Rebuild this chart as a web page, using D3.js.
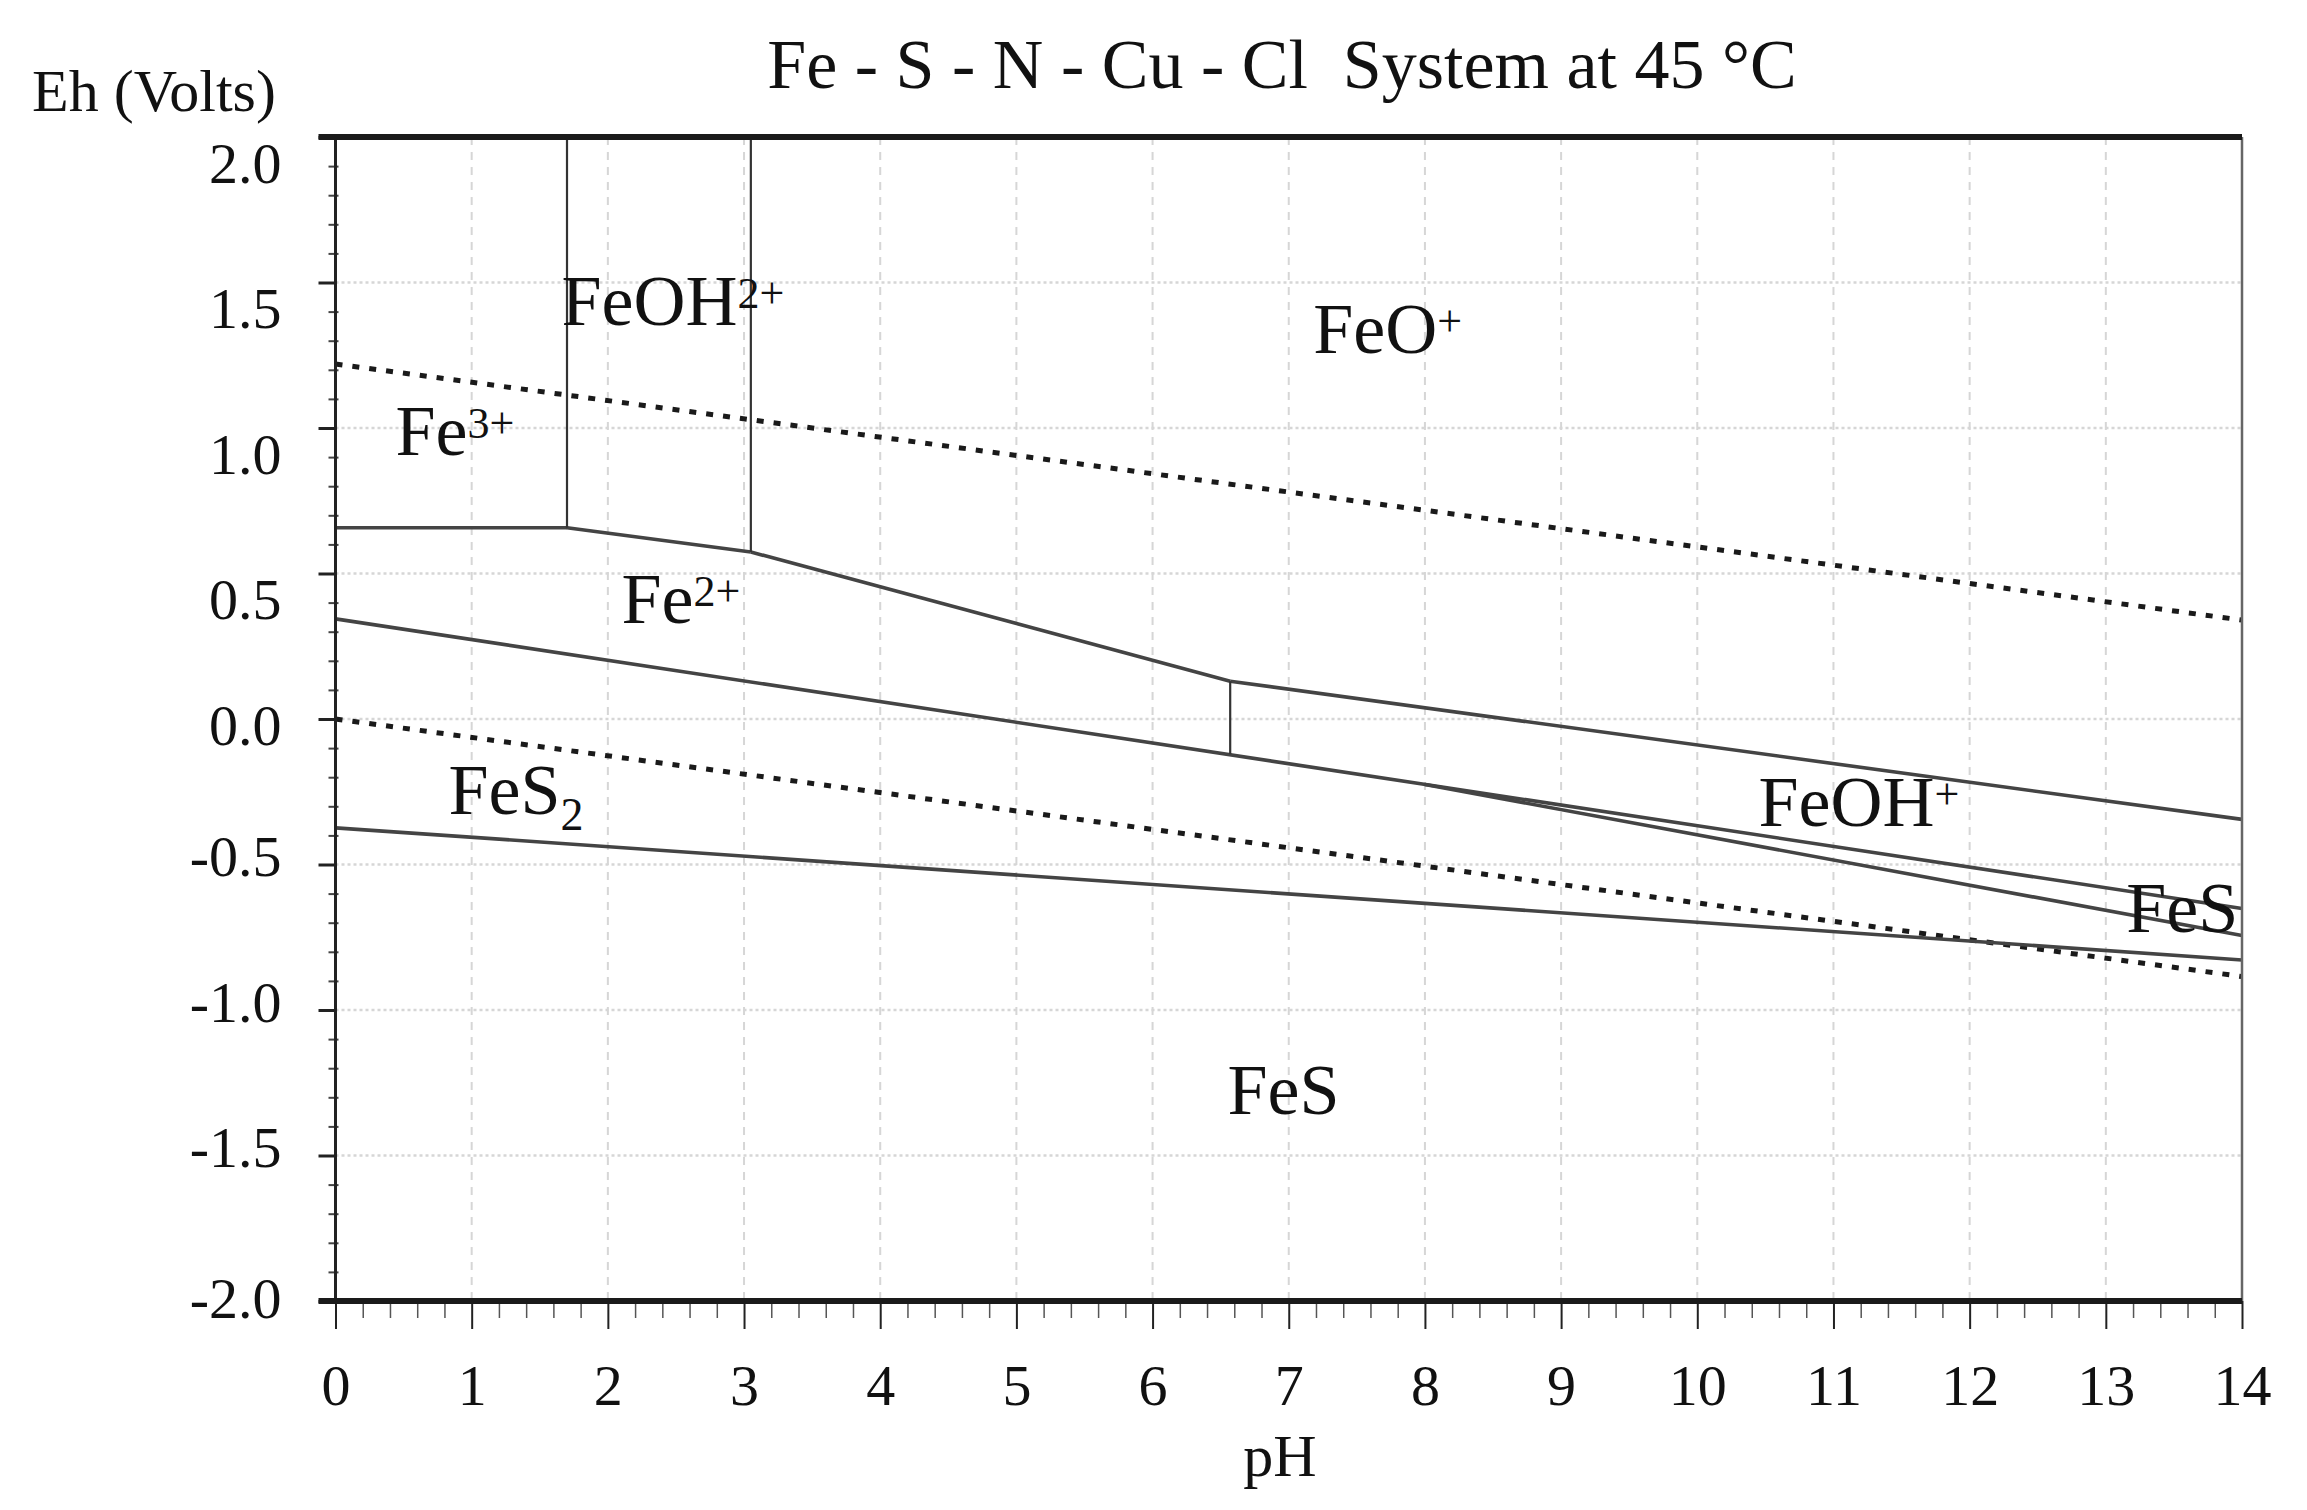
<!DOCTYPE html>
<html>
<head>
<meta charset="utf-8">
<script src="https://d3js.org/d3.v7.min.js"></script>
<style>
  body { margin: 0; background: #fff; }
  svg { display: block; font-family: "Liberation Serif", "Times New Roman", serif; }
</style>
</head>
<body>
<div id="chart"></div>
<script>
// ---- data (pH, Eh in volts) ----
const pHTicks = d3.range(0, 15);
const ehTicks = [2.0, 1.5, 1.0, 0.5, 0.0, -0.5, -1.0, -1.5, -2.0];

// water stability limits (dotted)
const waterUpper = [[0, 1.22], [14, 0.34]];
const waterLower = [[0, 0.0], [14, -0.885]];

// sloping / horizontal boundaries
const fe3Fe2 = [[0, 0.657], [1.70, 0.657]];
const feoh2Fe2 = [[1.70, 0.657], [3.05, 0.574]];
const feoFe2 = [[3.05, 0.574], [6.57, 0.13]];
const feoFeoh = [[6.57, 0.13], [14, -0.345]];
const fe2Fes2 = [[0, 0.344], [14, -0.651]];
const feohFes = [[8.0, -0.225], [14, -0.744]];
const fes2Fes = [[0, -0.374], [14, -0.828]];

// vertical boundaries
const fe3Feoh2 = [[1.70, 0.657], [1.70, 2.0]];
const feoh2Feo = [[3.05, 0.574], [3.05, 2.0]];
const fe2Feoh = [[6.57, 0.13], [6.57, -0.121]];

// field labels: base text, superscript, subscript, anchor (pH, Eh)
const fieldNames = ["Fe", "FeOH", "FeO", "Fe", "FeS", "FeOH", "FeS", "FeS"];
const fieldSup = ["3+", "2+", "+", "2+", "", "+", "", ""];
const fieldSub = ["", "", "", "", "2", "", "", ""];
const fieldPH = [0.44, 1.66, 7.18, 2.10, 0.83, 10.45, 13.15, 6.55];
const fieldEh = [0.907, 1.354, 1.258, 0.33, -0.326, -0.368, -0.732, -1.357];

// ---- drawing ----
const W = 2307, H = 1510;
const svg = d3.select("#chart").append("svg")
  .attr("width", W).attr("height", H);

const x = d3.scaleLinear().domain([0, 14]).range([335.5, 2242]);
const y = d3.scaleLinear().domain([-2, 2]).range([1301, 137]);

// grid
const grid = svg.append("g");
grid.selectAll("line.v").data(pHTicks.filter(d => d > 0 && d < 14)).enter()
  .append("line")
  .attr("x1", d => x(d)).attr("x2", d => x(d))
  .attr("y1", y(2)).attr("y2", y(-2))
  .attr("stroke", "#d6d6d6").attr("stroke-width", 2)
  .attr("stroke-dasharray", "8,7");
grid.selectAll("line.h").data(ehTicks.filter(d => d > -2 && d < 2)).enter()
  .append("line")
  .attr("x1", x(0)).attr("x2", x(14))
  .attr("y1", d => y(d)).attr("y2", d => y(d))
  .attr("stroke", "#d6d6d6").attr("stroke-width", 2.5)
  .attr("stroke-dasharray", "3,3");

const line = d3.line().x(d => x(d[0])).y(d => y(d[1]));

// water lines
svg.append("g").selectAll("path").data([waterUpper, waterLower]).enter()
  .append("path")
  .attr("d", line)
  .attr("fill", "none")
  .attr("stroke", "#1a1a1a")
  .attr("stroke-width", 5)
  .attr("stroke-dasharray", "7,10");

// boundaries
svg.append("g").selectAll("path")
  .data([fe3Fe2, feoh2Fe2, feoFe2, feoFeoh, fe2Fes2, feohFes, fes2Fes]).enter()
  .append("path")
  .attr("d", line)
  .attr("fill", "none")
  .attr("stroke", "#444")
  .attr("stroke-width", 3.6);

svg.append("g").selectAll("path")
  .data([fe3Feoh2, feoh2Feo, fe2Feoh]).enter()
  .append("path")
  .attr("d", line)
  .attr("fill", "none")
  .attr("stroke", "#333")
  .attr("stroke-width", 2.2);

// x axis (major + minor)
const xMinor = d3.range(0, 14.001, 0.2).filter(v => Math.abs(v - Math.round(v)) > 1e-6);
const xAxisMinor = svg.append("g")
  .attr("transform", `translate(0,${y(-2)})`)
  .call(d3.axisBottom(x).tickValues(xMinor).tickSize(17).tickFormat(""));
xAxisMinor.select(".domain").remove();
xAxisMinor.selectAll("line").attr("stroke", "#555").attr("stroke-width", 1.5);

const xAxis = svg.append("g")
  .attr("transform", `translate(0,${y(-2)})`)
  .call(d3.axisBottom(x).tickValues(pHTicks).tickSize(28).tickFormat(d3.format("d")));
xAxis.select(".domain").remove();
xAxis.selectAll("line").attr("stroke", "#222").attr("stroke-width", 2);
xAxis.selectAll("text")
  .attr("y", 104).attr("dy", null)
  .attr("fill", "#111")
  .style("font-family", "Liberation Serif, serif")
  .style("font-size", "58px");

// y axis (major + minor)
const yMinor = d3.range(-20, 21).map(v => v / 10).filter(v => Math.abs(v * 2 - Math.round(v * 2)) > 1e-6);
const yAxisMinor = svg.append("g")
  .attr("transform", `translate(${x(0) + 3},0)`)
  .call(d3.axisLeft(y).tickValues(yMinor).tickSize(10).tickFormat(""));
yAxisMinor.select(".domain").remove();
yAxisMinor.selectAll("line").attr("stroke", "#444").attr("stroke-width", 2);

const yAxis = svg.append("g")
  .attr("transform", `translate(${x(0)},0)`)
  .call(d3.axisLeft(y).tickValues(ehTicks).tickSize(17).tickFormat(d3.format(".1f")));
yAxis.select(".domain").remove();
yAxis.selectAll("line").attr("stroke", "#222").attr("stroke-width", 3);
yAxis.selectAll("text")
  .text(d => d3.format(".1f")(d).replace("\u2212", "-"))
  .attr("x", -54)
  .attr("dy", null)
  .attr("y", d => d > 0 ? 45 : (d === 0 ? 25 : (d === -2 ? 16 : 11)))
  .attr("fill", "#111")
  .style("font-family", "Liberation Serif, serif")
  .style("font-size", "58px");

// frame
svg.append("line")
  .attr("x1", x(0)).attr("x2", x(0)).attr("y1", y(2)).attr("y2", y(-2))
  .attr("stroke", "#222").attr("stroke-width", 3);
svg.append("line")
  .attr("x1", x(14)).attr("x2", x(14)).attr("y1", y(2)).attr("y2", y(-2))
  .attr("stroke", "#666").attr("stroke-width", 2.5);
svg.append("line")
  .attr("x1", x(0) - 17).attr("x2", x(14)).attr("y1", y(2)).attr("y2", y(2))
  .attr("stroke", "#1a1a1a").attr("stroke-width", 6);
svg.append("line")
  .attr("x1", x(0) - 17).attr("x2", x(14)).attr("y1", y(-2)).attr("y2", y(-2))
  .attr("stroke", "#1a1a1a").attr("stroke-width", 6);

// field labels
const labels = svg.append("g").selectAll("text")
  .data(fieldNames.map((n, i) => ({ n, sup: fieldSup[i], sub: fieldSub[i], ph: fieldPH[i], eh: fieldEh[i] })))
  .enter().append("text")
  .attr("x", d => x(d.ph)).attr("y", d => y(d.eh))
  .attr("fill", "#111")
  .style("font-size", "72px");
labels.append("tspan").text(d => d.n);
labels.filter(d => d.sup).append("tspan")
  .attr("dy", -17).style("font-size", "44px").text(d => d.sup);
labels.filter(d => d.sub).append("tspan")
  .attr("dy", 16).style("font-size", "46px").text(d => d.sub);

// titles
svg.append("text")
  .attr("x", 1282).attr("y", 88)
  .attr("text-anchor", "middle")
  .style("white-space", "pre")
  .style("font-size", "70px")
  .attr("fill", "#111")
  .text("Fe - S - N - Cu - Cl  System at 45 \u00B0C");

svg.append("text")
  .attr("x", 32).attr("y", 111)
  .style("font-size", "60px")
  .attr("fill", "#111")
  .text("Eh (Volts)");

svg.append("text")
  .attr("x", 1280).attr("y", 1476)
  .attr("text-anchor", "middle")
  .style("font-size", "60px")
  .attr("fill", "#111")
  .text("pH");
</script>
</body>
</html>
